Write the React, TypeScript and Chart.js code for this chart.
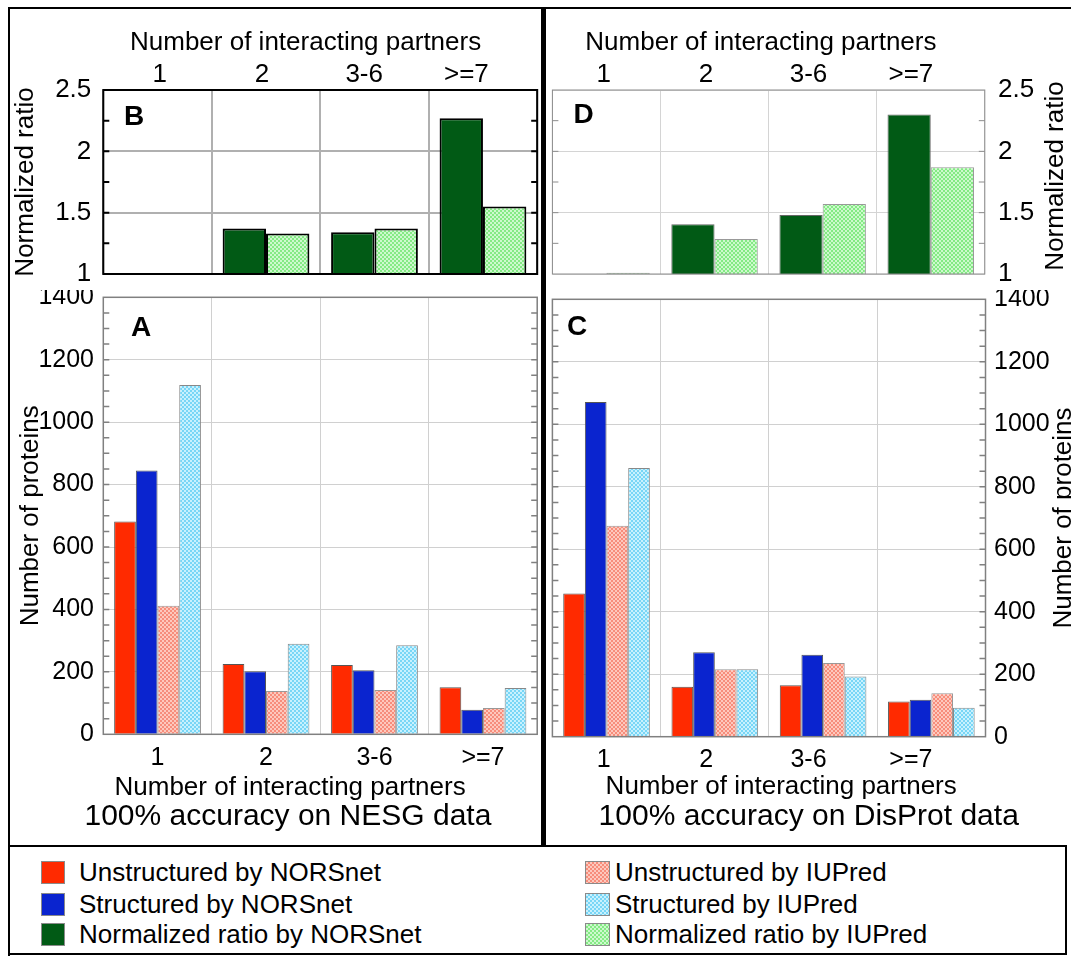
import React, { useEffect, useRef } from 'react';
import { Chart, registerables } from 'chart.js';

Chart.register(...registerables);

const FONT = '"Liberation Sans", Arial, Helvetica, sans-serif';
Chart.defaults.font.family = FONT;
Chart.defaults.color = '#000';

// ---------- data ----------
const categories = ['1', '2', '3-6', '>=7'];
const categoryPositions = [1, 2, 3, 4];

// NESG data (left panels A and B)
const nesgUnstructuredNORSnet = [682, 225, 222, 151];
const nesgStructuredNORSnet = [845, 202, 205, 79];
const nesgUnstructuredIUPred = [412, 139, 142, 84];
const nesgStructuredIUPred = [1119, 290, 285, 148];
const nesgRatioNORSnet = [1, 1.37, 1.34, 2.27];
const nesgRatioIUPred = [1, 1.33, 1.37, 1.55];

// DisProt data (right panels C and D)
const disprotUnstructuredNORSnet = [458, 160, 165, 113];
const disprotStructuredNORSnet = [1071, 270, 262, 118];
const disprotUnstructuredIUPred = [675, 216, 236, 139];
const disprotStructuredIUPred = [860, 216, 193, 93];
const disprotRatioNORSnet = [1, 1.405, 1.48, 2.3];
const disprotRatioIUPred = [1.01, 1.285, 1.57, 1.87];

const legendNORSnet = ['Unstructured by NORSnet', 'Structured by NORSnet', 'Normalized ratio by NORSnet'];
const legendIUPred = ['Unstructured by IUPred', 'Structured by IUPred', 'Normalized ratio by IUPred'];

// ---------- styles ----------
const RED = '#ff2a00';
const BLUE = '#0a24cf';
const DARK_GREEN = '#015a15';
const PINK: [string, string] = ['#f78d7b', '#fdc9be'];
const CYAN: [string, string] = ['#78d6f6', '#c8f1fe'];
const LIGHT_GREEN: [string, string] = ['#84ea84', '#cdf9cd'];

function makePattern([base, light]: [string, string]) {
  const c = document.createElement('canvas');
  c.width = 4;
  c.height = 4;
  const g = c.getContext('2d')!;
  g.fillStyle = base;
  g.fillRect(0, 0, 4, 4);
  g.fillStyle = light;
  g.fillRect(0, 0, 2, 2);
  g.fillRect(2, 2, 2, 2);
  return g.createPattern(c, 'repeat')!;
}

const cssPattern = ([base, light]: [string, string]) =>
  `repeating-conic-gradient(${base} 0% 25%, ${light} 0% 50%) 0 0 / 4px 4px`;

const fixW = (w: number) => (s: any) => {
  s.width = w;
  s.paddingTop = 0;
  s.paddingBottom = 0;
  s.paddingLeft = 0;
  s.paddingRight = 0;
};
const fixH = (h: number) => (s: any) => {
  s.height = h;
  s.paddingTop = 0;
  s.paddingBottom = 0;
  s.paddingLeft = 0;
  s.paddingRight = 0;
};

const catLabel = (v: any) => categories[Math.round(Number(v)) - 1] ?? '';

// a linear axis that only carries the category labels (the original figure's
// labels drift slightly from the category centres)
const labelAxis = (position: string, min: number, max: number, size: number, padding: number, height: number) => ({
  type: 'linear',
  position,
  min,
  max,
  bounds: 'data',
  offset: false,
  ticks: { autoSkip: false, maxRotation: 0, font: { size }, padding, callback: catLabel },
  afterBuildTicks: (s: any) => {
    s.ticks = categoryPositions.map((value) => ({ value }));
  },
  grid: { display: false, drawTicks: false, offset: false },
  border: { display: false },
  afterFit: fixH(height),
});

type Caption = { text: string; x: number; y: number; size: number; bold?: boolean; rotate?: number };

const makeCaptions = (items: Caption[]) => ({
  id: 'captions',
  afterDraw(chart: any) {
    const ctx = chart.ctx;
    for (const it of items) {
      ctx.save();
      ctx.font = `${it.bold ? 'bold ' : ''}${it.size}px ${FONT}`;
      ctx.fillStyle = '#000';
      ctx.textAlign = 'center';
      ctx.textBaseline = 'middle';
      ctx.translate(it.x, it.y);
      if (it.rotate) ctx.rotate(it.rotate);
      ctx.fillText(it.text, 0, 0);
      ctx.restore();
    }
  },
});

const makeFrame = (color: string, width: number, minorStep: number, tickLen: number) => ({
  id: 'frame',
  afterDatasetsDraw(chart: any) {
    const { ctx, chartArea } = chart;
    const { left, right, top, bottom } = chartArea;
    const y = chart.scales.y;
    ctx.save();
    ctx.strokeStyle = color;
    ctx.lineWidth = width;
    ctx.beginPath();
    const n = Math.round((y.max - y.min) / minorStep);
    for (let i = 1; i < n; i++) {
      const py = y.getPixelForValue(y.min + i * minorStep);
      ctx.moveTo(left, py);
      ctx.lineTo(left + tickLen, py);
      ctx.moveTo(right, py);
      ctx.lineTo(right - tickLen, py);
    }
    ctx.stroke();
    ctx.strokeRect(left, top, right - left, bottom - top);
    ctx.restore();
  },
});

const bar = (label: string, data: number[], bg: any, border: string, bw: number) => ({
  label,
  data,
  backgroundColor: bg,
  borderColor: border,
  borderWidth: bw,
  categoryPercentage: 0.8,
  barPercentage: 1,
});

const baseOptions = (padding: any) => ({
  responsive: false,
  animation: false as const,
  devicePixelRatio: 1,
  events: [] as any[],
  layout: { padding },
  plugins: { legend: { display: false }, tooltip: { enabled: false } },
});

// ---------- chart configs ----------
function configB() {
  return {
    type: 'bar',
    data: {
      labels: categories,
      datasets: [
        bar(legendNORSnet[2], nesgRatioNORSnet, DARK_GREEN, '#000', 2),
        bar(legendIUPred[2], nesgRatioIUPred, makePattern(LIGHT_GREEN), '#000', 2),
      ],
    },
    options: {
      ...baseOptions({ left: 0, right: 2.8, top: 0, bottom: 16 }),
      scales: {
        x: {
          type: 'category',
          position: 'top',
          ticks: { display: false },
          grid: { color: '#b0b0b0', lineWidth: 2, drawTicks: false, offset: true },
          border: { display: false },
          afterFit: fixH(0),
        },
        xl: labelAxis('top', 0.447, 4.693, 26, 0, 90),
        y: {
          type: 'linear',
          position: 'left',
          min: 1,
          max: 2.5,
          ticks: { stepSize: 0.5, font: { size: 26 }, padding: 12, callback: (v: any) => String(v) },
          grid: { color: '#b0b0b0', lineWidth: 2, drawTicks: false },
          border: { display: false },
          title: { display: true, text: 'Normalized ratio', font: { size: 26 }, padding: { top: 10.4, bottom: 0 } },
          afterFit: fixW(103.3),
        },
      },
    },
    plugins: [
      makeFrame('#000', 2, 0.25, 6),
      makeCaptions([
        { text: 'Number of interacting partners', x: 305.6, y: 42.7, size: 26 },
        { text: 'B', x: 134, y: 117, size: 28, bold: true },
      ]),
    ],
  };
}

function configA() {
  return {
    type: 'bar',
    data: {
      labels: categories,
      datasets: [
        bar(legendNORSnet[0], nesgUnstructuredNORSnet, RED, '#555', 1),
        bar(legendNORSnet[1], nesgStructuredNORSnet, BLUE, '#555', 1),
        bar(legendIUPred[0], nesgUnstructuredIUPred, makePattern(PINK), '#999', 1),
        bar(legendIUPred[1], nesgStructuredIUPred, makePattern(CYAN), '#888', 1),
      ],
    },
    options: {
      ...baseOptions({ left: 0, right: 2.8, top: 7.3, bottom: 71.7 }),
      scales: {
        x: {
          type: 'category',
          position: 'bottom',
          ticks: { font: { size: 25 }, padding: 9, maxRotation: 0 },
          grid: { color: '#d0d0d0', lineWidth: 1, drawTicks: false, offset: true },
          border: { display: false },
          afterFit: fixH(40),
        },
        y: {
          type: 'linear',
          position: 'left',
          min: 0,
          max: 1400,
          ticks: { stepSize: 200, font: { size: 25 }, padding: 9.3, callback: (v: any) => String(v) },
          grid: { color: '#d0d0d0', lineWidth: 1, drawTicks: false },
          border: { display: false },
          title: { display: true, text: 'Number of proteins', font: { size: 26 }, padding: { top: 15, bottom: 0 } },
          afterFit: fixW(103.3),
        },
      },
    },
    plugins: [
      makeFrame('#808080', 1.5, 50, 6),
      makeCaptions([
        { text: 'Number of interacting partners', x: 290.1, y: 497.7, size: 26 },
        { text: '100% accuracy on NESG data', x: 287.9, y: 526.7, size: 30 },
        { text: 'A', x: 141, y: 38, size: 28, bold: true },
      ]),
    ],
  };
}

function configD() {
  return {
    type: 'bar',
    data: {
      labels: categories,
      datasets: [
        bar(legendNORSnet[2], disprotRatioNORSnet, DARK_GREEN, '#666', 1),
        bar(legendIUPred[2], disprotRatioIUPred, makePattern(LIGHT_GREEN), '#999', 1),
      ],
    },
    options: {
      ...baseOptions({ left: 5.4, right: 0, top: 0, bottom: 16 }),
      scales: {
        x: {
          type: 'category',
          position: 'top',
          ticks: { display: false },
          grid: { color: '#d4d4d4', lineWidth: 1, drawTicks: false, offset: true },
          border: { display: false },
          afterFit: fixH(0),
        },
        xl: labelAxis('top', 0.499, 4.722, 26, 0, 90),
        y: {
          type: 'linear',
          position: 'right',
          min: 1,
          max: 2.5,
          ticks: { stepSize: 0.5, font: { size: 26 }, padding: 13.2, callback: (v: any) => String(v) },
          grid: { color: '#d4d4d4', lineWidth: 1, drawTicks: false },
          border: { display: false },
          afterFit: fixW(86.2),
        },
      },
    },
    plugins: [
      makeFrame('#8c8c8c', 1, 0.25, 6),
      makeCaptions([
        { text: 'Number of interacting partners', x: 213.9, y: 42.7, size: 26 },
        { text: 'Normalized ratio', x: 508.4, y: 176, size: 26, rotate: -Math.PI / 2 },
        { text: 'D', x: 36.5, y: 115, size: 28, bold: true },
      ]),
    ],
  };
}

function configC() {
  return {
    type: 'bar',
    data: {
      labels: categories,
      datasets: [
        bar(legendNORSnet[0], disprotUnstructuredNORSnet, RED, '#555', 1),
        bar(legendNORSnet[1], disprotStructuredNORSnet, BLUE, '#555', 1),
        bar(legendIUPred[0], disprotUnstructuredIUPred, makePattern(PINK), '#999', 1),
        bar(legendIUPred[1], disprotStructuredIUPred, makePattern(CYAN), '#888', 1),
      ],
    },
    options: {
      ...baseOptions({ left: 5.4, right: 0, top: 9.3, bottom: 69.3 }),
      scales: {
        x: {
          type: 'category',
          position: 'bottom',
          ticks: { display: false },
          grid: { color: '#d0d0d0', lineWidth: 1, drawTicks: false, offset: true },
          border: { display: false },
          afterFit: fixH(0),
        },
        xl: labelAxis('bottom', 0.499, 4.729, 25, 8, 40),
        y: {
          type: 'linear',
          position: 'right',
          min: 0,
          max: 1400,
          ticks: { stepSize: 200, font: { size: 25 }, padding: 8.5, callback: (v: any) => String(v) },
          grid: { color: '#d0d0d0', lineWidth: 1, drawTicks: false },
          border: { display: false },
          afterFit: fixW(85.5),
        },
      },
    },
    plugins: [
      makeFrame('#808080', 1.5, 50, 6),
      makeCaptions([
        { text: 'Number of interacting partners', x: 234.2, y: 497, size: 26 },
        { text: '100% accuracy on DisProt data', x: 261.7, y: 526.7, size: 30 },
        { text: 'Number of proteins', x: 517, y: 228, size: 26, rotate: -Math.PI / 2 },
        { text: 'C', x: 30, y: 37.5, size: 28, bold: true },
      ]),
    ],
  };
}

// ---------- components ----------
function ChartBox({ left, top, width, height, build }: { left: number; top: number; width: number; height: number; build: () => any }) {
  const ref = useRef<HTMLCanvasElement>(null);
  useEffect(() => {
    const chart = new Chart(ref.current as HTMLCanvasElement, build());
    return () => chart.destroy();
  }, []);
  return (
    <canvas
      ref={ref}
      width={width}
      height={height}
      style={{ position: 'absolute', left, top, width, height, display: 'block' }}
    />
  );
}

const Line = ({ l, t, w, h }: { l: number; t: number; w: number; h: number }) => (
  <div style={{ position: 'absolute', left: l, top: t, width: w, height: h, background: '#000' }} />
);

function LegendItem({ x, y, w, bg, label, textX }: { x: number; y: number; w: number; bg: string; label: string; textX: number }) {
  return (
    <>
      <div
        style={{
          position: 'absolute',
          left: x,
          top: y,
          width: w,
          height: 23,
          background: bg,
          boxSizing: 'border-box',
          border: '1px solid #8a8a8a',
        }}
      />
      <div
        style={{
          position: 'absolute',
          left: textX,
          top: y - 4,
          height: 31,
          lineHeight: '31px',
          fontSize: 26,
          fontFamily: FONT,
          color: '#000',
          whiteSpace: 'nowrap',
        }}
      >
        {label}
      </div>
    </>
  );
}

export default function App() {
  const rowTops = [861, 893, 923];
  const leftBgs = [RED, BLUE, DARK_GREEN];
  const rightBgs = [cssPattern(PINK), cssPattern(CYAN), cssPattern(LIGHT_GREEN)];
  return (
    <div
      style={{
        position: 'absolute',
        left: 0,
        top: 0,
        width: 1071,
        height: 956,
        overflow: 'hidden',
        background: '#fff',
      }}
    >
      <ChartBox left={0} top={0} width={540} height={290} build={configB} />
      <ChartBox left={0} top={290} width={540} height={556} build={configA} />
      <ChartBox left={547} top={0} width={524} height={290} build={configD} />
      <ChartBox left={547} top={290} width={524} height={556} build={configC} />

      {legendNORSnet.map((label, i) => (
        <LegendItem key={label} x={41} y={rowTops[i]} w={24} bg={leftBgs[i]} label={label} textX={79} />
      ))}
      {legendIUPred.map((label, i) => (
        <LegendItem key={label} x={585} y={rowTops[i]} w={25} bg={rightBgs[i]} label={label} textX={615} />
      ))}

      <Line l={8} t={7} w={1063} h={2} />
      <Line l={8} t={7} w={2} h={949} />
      <Line l={541} t={7} w={5} h={840} />
      <Line l={8} t={845} w={1059} h={2} />
      <Line l={8} t={953} w={1059} h={2} />
      <Line l={1065} t={845} w={2} h={110} />
    </div>
  );
}
